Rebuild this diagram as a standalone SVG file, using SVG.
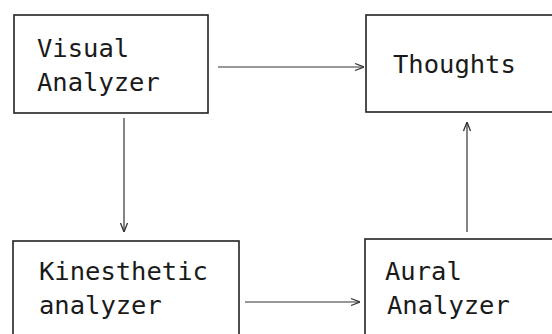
<svg xmlns="http://www.w3.org/2000/svg" width="552" height="334" viewBox="0 0 552 334">
<defs>
<style>
.box{fill:none;stroke:#222;stroke-width:1.6}
.lbl{font-family:"DejaVu Sans Mono","Liberation Mono",monospace;font-size:25.5px;fill:#1a1a1a}
.con{fill:none;stroke:#333;stroke-width:1.2}
</style>
<marker id="ah" viewBox="0 0 10 10" refX="10" refY="5" markerWidth="10" markerHeight="10" markerUnits="userSpaceOnUse" orient="auto">
<path d="M1,1.5 L10,5 L1,8.5" fill="none" stroke="#333" stroke-width="1.3"/>
</marker>
</defs>
<rect width="552" height="334" fill="#fff"/>
<g id="visual">
<rect class="box" x="14" y="15" width="194" height="98"/>
<text class="lbl" x="37" y="57">Visual</text>
<text class="lbl" x="37" y="91">Analyzer</text>
</g>
<g id="thoughts">
<rect class="box" x="366" y="15" width="200" height="97"/>
<text class="lbl" x="393" y="73">Thoughts</text>
</g>
<g id="kinesthetic">
<rect class="box" x="13" y="241" width="226" height="110"/>
<text class="lbl" x="39" y="280">Kinesthetic</text>
<text class="lbl" x="39" y="314">analyzer</text>
</g>
<g id="aural">
<rect class="box" x="365" y="239" width="200" height="110"/>
<text class="lbl" x="385" y="280">Aural</text>
<text class="lbl" x="387" y="314">Analyzer</text>
</g>
<g id="connectors">
<line class="con" x1="218" y1="67" x2="364" y2="67" marker-end="url(#ah)"/>
<line class="con" x1="124" y1="118" x2="124" y2="232" marker-end="url(#ah)"/>
<line class="con" x1="245" y1="302" x2="360" y2="302" marker-end="url(#ah)"/>
<line class="con" x1="467" y1="232" x2="467" y2="122" marker-end="url(#ah)"/>
</g>
</svg>
